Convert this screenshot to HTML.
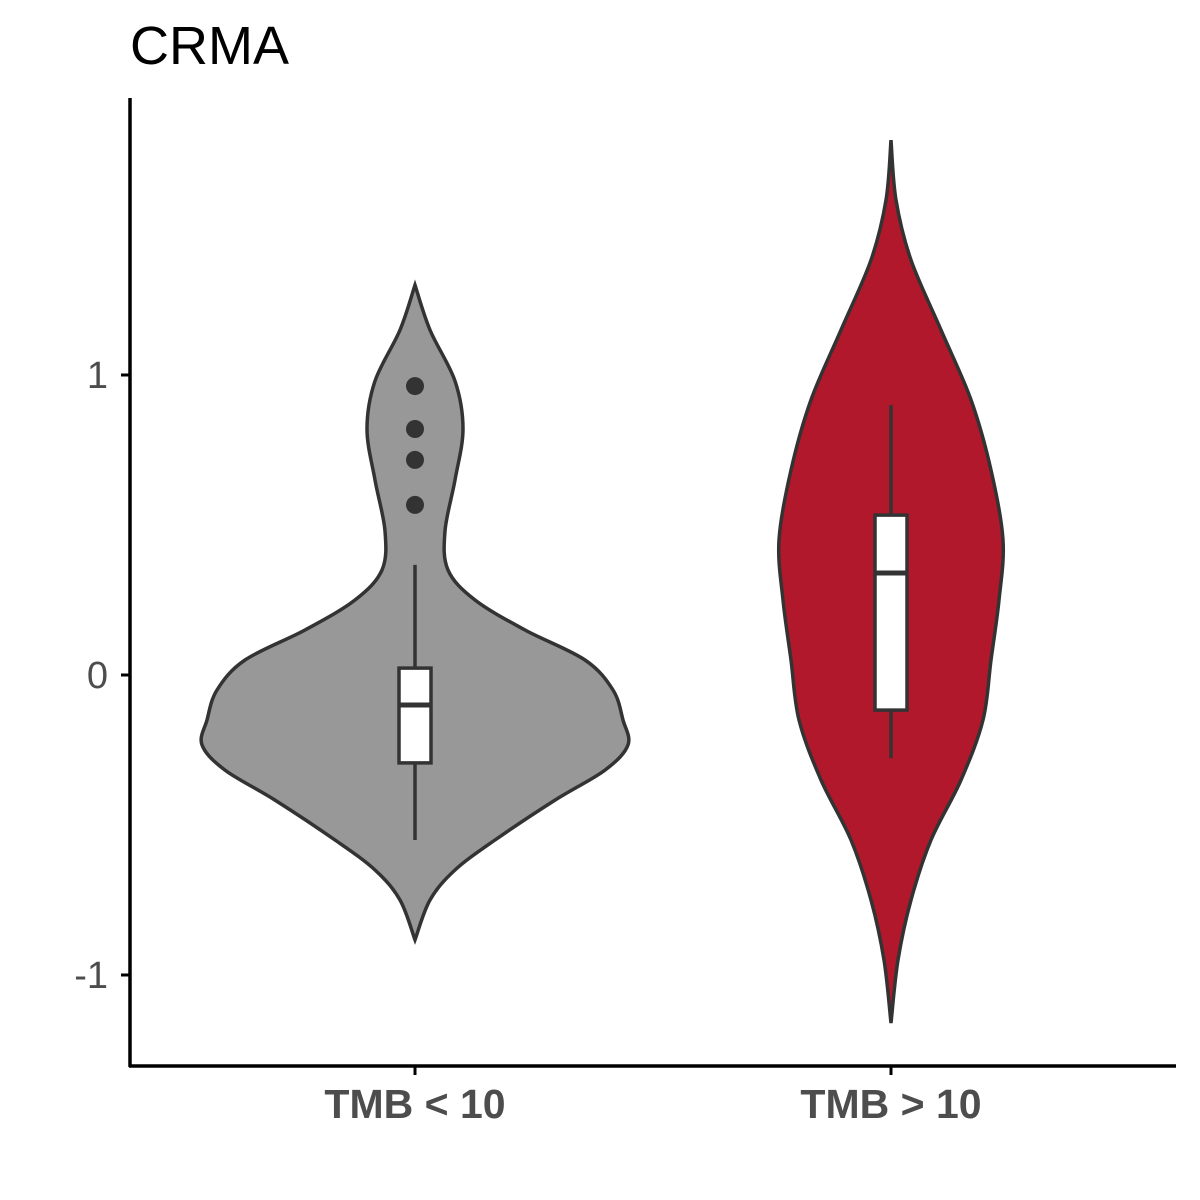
<!DOCTYPE html>
<html><head><meta charset="utf-8"><style>
html,body{margin:0;padding:0;background:#fff;}
svg{display:block;font-family:"Liberation Sans",sans-serif;}
</style></head><body>
<svg id="chart" width="1200" height="1200" viewBox="0 0 1200 1200">
<text x="130" y="64" font-size="54" fill="#000">CRMA</text>
<g id="plot"></g>
<line x1="130" y1="98" x2="130" y2="1067" stroke="#000" stroke-width="3.5"/>
<line x1="129" y1="1066" x2="1176" y2="1066" stroke="#000" stroke-width="3.5"/>
<g id="axes"></g>
</svg>
<script>
const categories = ["TMB < 10", "TMB > 10"];
const fills = ["#989898", "#B2182B"];
const yTicks = [-1, 0, 1];
const violin1Vals = [1.3, 1.15, 0.98, 0.82, 0.65, 0.48, 0.35, 0.25, 0.15, 0.05, -0.05, -0.15, -0.233, -0.317, -0.417, -0.55, -0.65, -0.75, -0.883];
const violin1Wid  = [0, 15, 40, 48, 40, 30, 33, 60, 110, 170, 198, 208, 213, 190, 140, 80, 40, 15, 0];
const violin2Vals = [1.783, 1.583, 1.383, 1.15, 0.917, 0.683, 0.45, 0.25, 0.05, -0.15, -0.35, -0.55, -0.75, -0.95, -1.16];
const violin2Wid  = [0, 5, 20, 50, 80, 100, 112, 108, 100, 92, 70, 40, 20, 7, 0];
const boxQ1 = [-0.293, -0.117];
const boxMed = [-0.1, 0.34];
const boxQ3 = [0.023, 0.533];
const whiskLo = [-0.55, -0.277];
const whiskHi = [0.367, 0.9];
const outliers1 = [0.963, 0.82, 0.717, 0.567];

const y = v => 675 - v * 300;
const x = i => 415 + i * 476;
const NS = "http://www.w3.org/2000/svg";
const plot = document.getElementById("plot");
const axes = document.getElementById("axes");
function mk(tag, attrs, parent){ const e=document.createElementNS(NS,tag); for(const k in attrs) e.setAttribute(k,attrs[k]); parent.appendChild(e); return e; }

function smooth(pts){
  let d = "M" + pts[0][0] + "," + pts[0][1];
  for(let i=0;i<pts.length-1;i++){
    const p0=pts[Math.max(i-1,0)], p1=pts[i], p2=pts[i+1], p3=pts[Math.min(i+2,pts.length-1)];
    const c1=[p1[0]+(p2[0]-p0[0])/6, p1[1]+(p2[1]-p0[1])/6];
    const c2=[p2[0]-(p3[0]-p1[0])/6, p2[1]-(p3[1]-p1[1])/6];
    d += " C"+c1[0]+","+c1[1]+" "+c2[0]+","+c2[1]+" "+p2[0]+","+p2[1];
  }
  return d;
}
const vals=[violin1Vals,violin2Vals], wids=[violin1Wid,violin2Wid];
for(let g=0; g<2; g++){
  const cx=x(g);
  const right = vals[g].map((v,j)=>[cx+wids[g][j], y(v)]);
  const left = vals[g].map((v,j)=>[cx-wids[g][j], y(v)]).reverse();
  const d = smooth(right) + " " + smooth(left).replace(/^M/,"L") + " Z";
  const p = mk("path",{d:d, fill:fills[g], stroke:"#333", "stroke-width":3.5}, plot);
  
  
  const w = mk("line",{x1:cx,x2:cx,y1:y(whiskHi[g]),y2:y(whiskLo[g]),stroke:"#333","stroke-width":3.5}, plot);
  
  
  const b = mk("rect",{x:cx-16,y:y(boxQ3[g]),width:32,height:y(boxQ1[g])-y(boxQ3[g]),fill:"#fff",stroke:"#333","stroke-width":3.5}, plot);
  
  
  const m = mk("line",{x1:cx-16,x2:cx+16,y1:y(boxMed[g]),y2:y(boxMed[g]),stroke:"#333","stroke-width":5}, plot);
  
  
  const t = mk("text",{x:cx,y:1118,"text-anchor":"middle","font-size":41,"font-weight":"bold",fill:"#4d4d4d"}, axes);
  t.textContent = categories[g];
  
  
  const tk = mk("line",{x1:cx,x2:cx,y1:1066,y2:1075,stroke:"#000","stroke-width":3}, axes);
  
  
}
outliers1.forEach(v=>{
  const c = mk("circle",{cx:x(0),cy:y(v),r:9,fill:"#333"}, plot);
  
  
});
yTicks.forEach(v=>{
  const t = mk("text",{x:108,y:y(v)+13,"text-anchor":"end","font-size":38,fill:"#4d4d4d"}, axes);
  t.textContent = v;
  
  
  const l = mk("line",{x1:121,x2:130,y1:y(v),y2:y(v),stroke:"#000","stroke-width":3}, axes);
  
  
});
</script>
</body></html>
